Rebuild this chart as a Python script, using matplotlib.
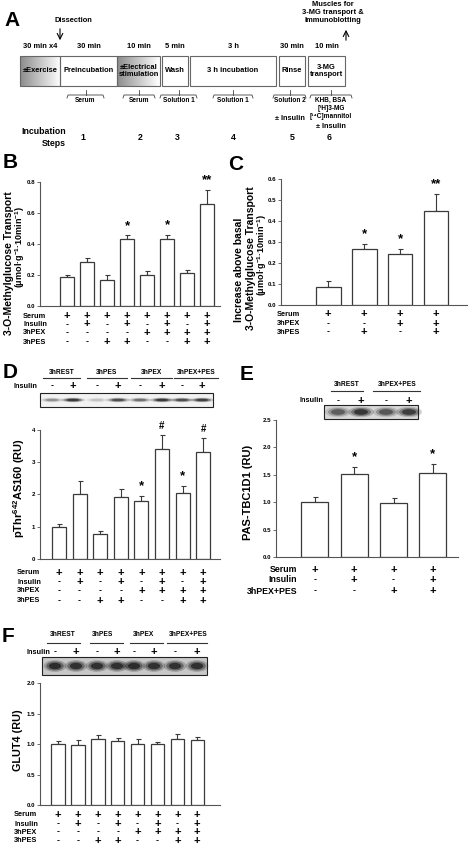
import matplotlib
matplotlib.use("Agg")
import matplotlib.pyplot as plt
import numpy as np
from matplotlib.patches import Rectangle, Ellipse
from matplotlib.transforms import blended_transform_factory

W, H = 473, 847

plt.rcParams['font.family'] = ['Liberation Sans', 'DejaVu Sans']
plt.rcParams['font.weight'] = 'bold'
plt.rcParams['mathtext.fontset'] = 'custom'
plt.rcParams['mathtext.rm'] = 'Liberation Sans:bold'
plt.rcParams['mathtext.it'] = 'Liberation Sans:bold'
plt.rcParams['mathtext.bf'] = 'Liberation Sans:bold'

# ---- data ----
steps = ['±Exercise', 'Preincubation', '±Electrical\nstimulation', 'Wash',
         '3 h incubation', 'Rinse', '3-MG\ntransport']
durations = ['30 min x4', '30 min', '10 min', '5 min', '3 h', '30 min', '10 min']
shaded = [True, False, True, False, False, False, False]
solutions = [['Serum'], ['Serum'], ['Solution 1'], ['Solution 1'],
             ['Solution 2', '± Insulin'],
             ['KHB, BSA', '[³H]3-MG', '[¹⁴C]mannitol', '± Insulin']]
step_numbers = ['1', '2', '3', '4', '5', '6']

b_vals = [0.185, 0.283, 0.165, 0.433, 0.200, 0.433, 0.210, 0.655]
b_err = [0.012, 0.025, 0.032, 0.020, 0.025, 0.025, 0.020, 0.090]
b_marks = ['', '', '', '*', '', '*', '', '**']

c_vals = [0.085, 0.265, 0.243, 0.450]
c_err = [0.028, 0.025, 0.023, 0.080]
c_marks = ['', '*', '*', '**']

d_vals = [1.00, 2.02, 0.78, 1.93, 1.80, 3.40, 2.03, 3.33]
d_err = [0.09, 0.38, 0.08, 0.25, 0.15, 0.45, 0.22, 0.43]
d_marks = ['', '', '', '', '*', '#', '*', '#']

e_vals = [1.00, 1.52, 0.98, 1.54]
e_err = [0.09, 0.12, 0.09, 0.15]
e_marks = ['', '*', '', '*']

f_vals = [1.00, 0.985, 1.08, 1.055, 0.995, 1.00, 1.09, 1.07]
f_err = [0.05, 0.08, 0.07, 0.05, 0.09, 0.025, 0.07, 0.04]
f_marks = [''] * 8

rows8 = ['Serum', 'Insulin', '3hPEX', '3hPES']
signs8 = [['+'] * 8, ['-', '+'] * 4, ['-'] * 4 + ['+'] * 4, ['-', '-', '+', '+'] * 2]
rows_c = ['Serum', '3hPEX', '3hPES']
signs_c = [['+'] * 4, ['-', '-', '+', '+'], ['-', '+', '-', '+']]
rows_e = ['Serum', 'Insulin', '3hPEX+PES']
signs_e = [['+'] * 4, ['-', '+', '-', '+'], ['-', '-', '+', '+']]

groups4 = ['3hREST', '3hPES', '3hPEX', '3hPEX+PES']
groups2 = ['3hREST', '3hPEX+PES']
insulin8 = ['-', '+'] * 4
insulin4 = ['-', '+'] * 2
blot_d = [0.35, 0.85, 0.15, 0.7, 0.5, 0.85, 0.7, 0.8]
blot_e = [0.55, 0.85, 0.6, 0.8]
blot_f = [0.95, 0.9, 0.9, 0.9, 0.95, 0.9, 0.9, 0.9]

fig = plt.figure(figsize=(W / 100, H / 100), dpi=100)
ov = fig.add_axes([0, 0, 1, 1])
ov.set_xlim(0, W)
ov.set_ylim(H, 0)
ov.axis('off')
EDGE = '#3a3a3a'


def txt(x, y, s, size=5.5, **kw):
    kw.setdefault('ha', 'center')
    kw.setdefault('va', 'center')
    ov.text(x, y, s, fontsize=size, fontweight='bold', **kw)


# ---- panel A ----
txt(4, 20, 'A', size=15, ha='left')
box_x = [(20, 60), (60, 117), (117, 160), (162, 188), (190, 276), (279, 305), (308, 345)]
grad = np.linspace(0.55, 1.0, 64).reshape(1, -1)
for (x0, x1), name, dur, sh in zip(box_x, steps, durations, shaded):
    if sh:
        ov.imshow(grad, cmap='gray', vmin=0, vmax=1, extent=(x0, x1, 86, 56),
                  aspect='auto', zorder=1)
    ov.add_patch(Rectangle((x0, 56), x1 - x0, 30, fill=False, ec='#666', lw=0.8, zorder=2))
    txt((x0 + x1) / 2, 71, name, size=5.4, zorder=3, linespacing=1.1)
    txt((x0 + x1) / 2, 47, dur, size=5.4)
ov.set_xlim(0, W)
ov.set_ylim(H, 0)

sol_x = [(67, 104), (123, 155), (160, 197), (213, 253), (273, 306), (310, 352)]
sol_line_y = {1: [101], 2: [101, 118], 4: [100, 108.5, 117, 126]}
for (x0, x1), lines in zip(sol_x, solutions):
    xc = (x0 + x1) / 2
    ov.plot([x0, x0 + 1, x1 - 1, x1], [98, 95, 95, 98], color='#444', lw=0.6)
    ov.plot([xc, xc], [95, 90], color='#444', lw=0.6)
    for k, (s, y) in enumerate(zip(lines, sol_line_y[len(lines)])):
        txt(xc, y, s, size=5.3 if 'Insulin' in s else 4.7)

txt(66, 132, 'Incubation', size=6.3, ha='right')
txt(66, 143, 'Steps', size=6.3, ha='right')
step_x = [83, 140, 177, 233, 292, 329]
for x, s in zip(step_x, step_numbers):
    txt(x, 137, s, size=6.3)

txt(73, 20, 'Dissection', size=5.4)
ov.annotate('', xy=(60, 43), xytext=(60, 26),
            arrowprops=dict(arrowstyle='->', color='black', lw=0.8))
txt(333, 13, 'Muscles for\n3-MG transport &\nImmunoblotting', size=5.4,
    ha='center', linespacing=1.2)
ov.annotate('', xy=(346, 27), xytext=(346, 43),
            arrowprops=dict(arrowstyle='->', color='black', lw=0.8))


# ---- bar panels ----
def bar_panel(rect, vals, errs, marks, ylim, ticks, fmt, xlim, width):
    x0, y0, x1, y1 = rect
    ax = fig.add_axes([x0 / W, 1 - y1 / H, (x1 - x0) / W, (y1 - y0) / H])
    ax.set_facecolor('none')
    x = np.arange(len(vals))
    ax.bar(x, vals, width, color='white', edgecolor=EDGE, linewidth=0.9, zorder=2)
    ax.errorbar(x, vals, yerr=[np.zeros(len(vals)), errs], fmt='none', ecolor=EDGE,
                elinewidth=0.8, capsize=1.8, capthick=0.8, zorder=1)
    for xi, v, e, m in zip(x, vals, errs, marks):
        if m:
            ax.text(xi, v + e + 0.03 * ylim, m, ha='center', va='bottom',
                    fontsize=9.5 if m != '#' else 7, fontweight='bold')
    ax.set_xlim(*xlim)
    ax.set_ylim(0, ylim)
    ax.set_yticks(ticks)
    ax.set_yticklabels([fmt.format(t) for t in ticks])
    ax.set_xticks([])
    for s in ['top', 'right']:
        ax.spines[s].set_visible(False)
    for s in ['left', 'bottom']:
        ax.spines[s].set_color('#555')
        ax.spines[s].set_linewidth(0.8)
    ax.tick_params(axis='y', length=2, width=0.6, colors='#555', labelsize=4.4,
                   labelcolor='black', pad=1.5)
    return ax


def sign_table(ax, rows, signs, ys, label_x, ha='left', size=5.3):
    tr = blended_transform_factory(ax.transData, ov.transData)
    for r, row, y in zip(rows, signs, ys):
        txt(label_x, y, r, size=size, ha=ha)
        for i, s in enumerate(row):
            ov.text(i, y, s, transform=tr, ha='center', va='center',
                    fontsize=8 if s == '+' else 6.5, fontweight='bold')


def blot(x0, x1, y0, y1, lanes, dens, bh, bg):
    ov.add_patch(Rectangle((x0, y0), x1 - x0, y1 - y0, fc=bg, ec='#222', lw=0.8))
    yc = (y0 + y1) / 2
    lw_ = (x1 - x0) / len(lanes) * 0.85
    for lx, d in zip(lanes, dens):
        for k, a in [(1.3, 0.25), (1.0, 0.45), (0.7, 0.8)]:
            ov.add_patch(Ellipse((lx, yc), lw_ * k, bh * k, fc='0.1',
                                 alpha=a * d, lw=0))


def headers(names, centers, spans, y_text, y_line, ins, ins_x, ins_y, ins_right):
    for n, c, (a, b) in zip(names, centers, spans):
        txt(c, y_text, n, size=4.8)
        ov.plot([a, b], [y_line, y_line], color='#333', lw=0.8)
    txt(ins_right, ins_y, 'Insulin', size=5.3, ha='right')
    for x, s in zip(ins_x, ins):
        txt(x, ins_y, s, size=8 if s == '+' else 6.5)


# B
txt(3, 162, 'B', size=15, ha='left')
axb = bar_panel((40, 181.7, 220, 305.7), b_vals, b_err, b_marks, 0.8,
                [0, 0.2, 0.4, 0.6, 0.8], '{:.1f}', (-1.35, 7.65), 0.7)
txt(9.5, 263, '3-O-Methylglucose Transport', size=7.5, rotation=90)
txt(20.5, 247, '(μmol·g$^{-1}$·10min$^{-1}$)', size=6.5, rotation=90)
sign_table(axb, rows8, signs8, [316, 324.5, 333, 342], 23)

# C
txt(228, 165, 'C', size=15, ha='left')
axc = bar_panel((281, 179, 467, 305), c_vals, c_err, c_marks, 0.6,
                [0, 0.1, 0.2, 0.3, 0.4, 0.5, 0.6], '{:.1f}', (-1.31, 3.86), 0.69)
txt(239, 270, 'Increase above basal', size=7.5, rotation=90)
txt(250.5, 258, '3-O-Methylglucose Transport', size=7.5, rotation=90)
txt(262, 255, '(μmol·g$^{-1}$·10min$^{-1}$)', size=6.5, rotation=90)
sign_table(axc, rows_c, signs_c, [314.5, 323.5, 332], 277)

# D
txt(3, 372, 'D', size=15, ha='left')
lanes_d = [52, 73, 97, 118, 140, 162, 182, 202]
headers(groups4, [62, 107, 151, 196], [(43, 80), (87, 127), (131, 172), (174, 218)],
        372, 378.5, insulin8, lanes_d, 386, 37)
blot(40, 213, 393, 407, lanes_d, blot_d, 3.5, '#f2f2f2')
axd = bar_panel((40, 430, 220, 558.7), d_vals, d_err, d_marks, 4,
                [0, 1, 2, 3, 4], '{:.0f}', (-0.92, 7.82), 0.68)
txt(19, 488, 'pThr$^{642}$AS160 (RU)', size=8, rotation=90)
sign_table(axd, rows8, signs8, [573, 582, 591, 601], 17)

# E
txt(240, 375, 'E', size=15, ha='left')
lanes_e = [338, 361, 386, 409]
headers(groups2, [347, 397], [(331, 363), (373, 420)], 384, 391,
        insulin4, lanes_e, 401, 323)
blot(324, 418, 405, 419, lanes_e, blot_e, 8, '#d8d8d8')
axe = bar_panel((276, 420, 458, 557), e_vals, e_err, e_marks, 2.5,
                [0, 0.5, 1.0, 1.5, 2.0, 2.5], '{:.1f}', (-0.99, 3.64), 0.69)
txt(248, 492, 'PAS-TBC1D1 (RU)', size=8, rotation=90)
sign_table(axe, rows_e, signs_e, [570, 579.5, 591], 297, ha='right', size=6.3)

# F
txt(2, 637, 'F', size=15, ha='left')
lanes_f = [55, 76, 97, 117, 134, 154, 175, 197]
headers(groups4, [63, 103, 143, 188], [(47, 80), (90, 123), (130, 163), (167, 207)],
        635, 643, insulin8, lanes_f, 652, 50)
blot(42, 207, 657, 675, lanes_f, blot_f, 9, '#c8c8c8')
axf = bar_panel((40, 683, 220, 805), f_vals, f_err, f_marks, 2.0,
                [0, 0.5, 1.0, 1.5, 2.0], '{:.1f}', (-0.9, 8.14), 0.68)
txt(18, 740, 'GLUT4 (RU)', size=7.8, rotation=90)
sign_table(axf, rows8, signs8, [815, 824, 832, 841], 14)

fig.savefig('out.png', dpi=100)
